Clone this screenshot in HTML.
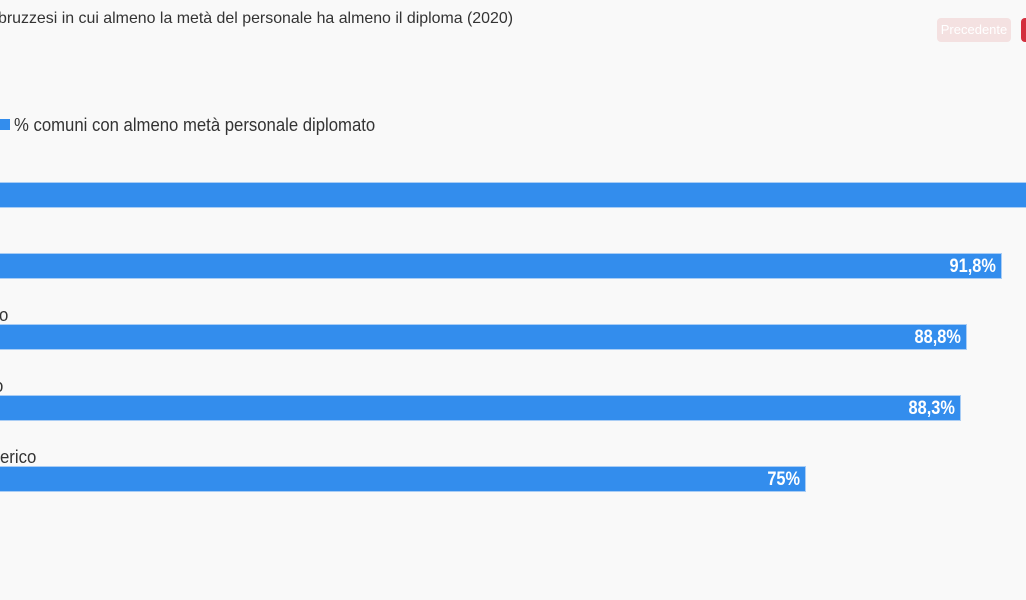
<!DOCTYPE html>
<html><head><meta charset="utf-8"><style>
html,body{margin:0;padding:0;width:1026px;height:600px;overflow:hidden;background:#f9f9f9;position:relative}
.t{position:absolute;left:-2px;top:10px;font:16px "Liberation Sans",sans-serif;color:#333;white-space:nowrap;transform:scaleX(0.995);transform-origin:left}
.c{font-family:"Liberation Sans",sans-serif}
.leg{position:absolute;left:14px;top:115px;font-size:18px;color:#333;white-space:nowrap;transform:scaleX(0.928);transform-origin:left}
.sw{position:absolute;left:0;top:119px;width:10px;height:11px;background:#338ded}
.bar{position:absolute;left:0;height:24px;background:#338ded;border:1px solid #a9cdf5;border-left:none;box-sizing:content-box}
.v{position:absolute;right:5px;top:2px;color:#fff;font-weight:bold;font-size:19px;line-height:22px;transform:scaleX(0.86);transform-origin:right}
.lab{position:absolute;font-size:18px;color:#333;white-space:nowrap;line-height:20px;transform:scaleX(0.93);transform-origin:left}
.b1{position:absolute;left:937px;top:18px;width:74px;height:24px;background:#f4e1e1;border-radius:4px;color:#fff;font:13px "Liberation Sans",sans-serif;line-height:24px;text-align:center}
.b2{position:absolute;left:1021px;top:18px;width:20px;height:24px;background:#d32f3e;border-radius:4px}
</style></head><body>
<div class="t">bruzzesi in cui almeno la metà del personale ha almeno il diploma (2020)</div>
<div class="b1">Precedente</div><div class="b2"></div>
<div class="sw"></div><div class="leg c">% comuni con almeno metà personale diplomato</div>
<div class="bar" style="top:182px;width:1030px"></div>
<div class="bar c" style="top:253px;width:1001px"><span class="v">91,8%</span></div>
<div class="lab c" style="left:-1px;top:305px">o</div>
<div class="bar c" style="top:324px;width:966px"><span class="v">88,8%</span></div>
<div class="lab c" style="left:-6px;top:376px">o</div>
<div class="bar c" style="top:395px;width:960px"><span class="v">88,3%</span></div>
<div class="lab c" style="left:0px;top:447px">erico</div>
<div class="bar c" style="top:466px;width:805px"><span class="v">75%</span></div>
</body></html>
